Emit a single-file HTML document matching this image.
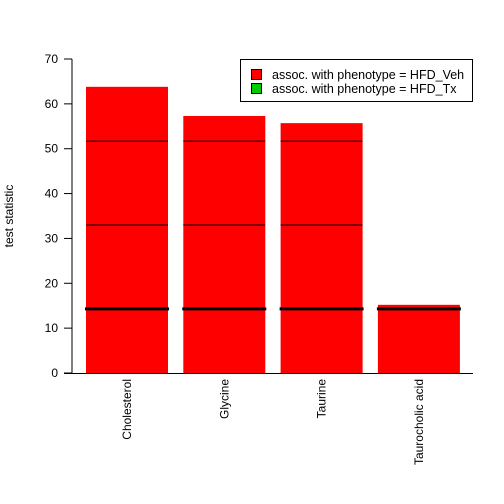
<!DOCTYPE html>
<html><head><meta charset="utf-8"><style>body{margin:0;background:#fff}svg{display:block}text{font-family:"Liberation Sans",sans-serif}</style></head>
<body>
<svg id="c" width="504" height="504"></svg>
<script>
const categories=["Cholesterol","Glycine","Taurine","Taurocholic acid"];
const values=[63.8,57.3,55.7,15.2];
const thinLines=[[51.7,33.0],[51.7,33.0],[51.7,33.0],[]];
const thresholds=[14.3,14.3,14.3,14.3];
const yTicks=[0,10,20,30,40,50,60,70];
const NS="http://www.w3.org/2000/svg";
const svg=document.getElementById('c');
function y(v){return 373-v*(314/70);}
function bx(i){return 86+i*97.3;}
const bw=82;
function mk(t,a,txt){const e=document.createElementNS(NS,t);for(const k in a)e.setAttribute(k,a[k]);if(txt!==undefined)e.textContent=txt;svg.appendChild(e);return e;}
values.forEach((v,i)=>{
 const r=mk('rect',{x:bx(i),y:y(v),width:bw,height:373-y(v),fill:'#ff0000'});
 
 
 thinLines[i].forEach(t=>{
  const l=mk('line',{x1:bx(i),x2:bx(i)+bw,y1:y(t),y2:y(t),stroke:'#000','stroke-width':1});
  
  
 });
 const th=mk('line',{x1:bx(i)-1,x2:bx(i)+bw+1,y1:y(thresholds[i]),y2:y(thresholds[i]),stroke:'#000','stroke-width':3});
 
 
 const lb=mk('text',{transform:`translate(${bx(i)+bw/2+4},379) rotate(-90)`,'text-anchor':'end','font-size':12},categories[i]);
 
 
});
const ya=mk('line',{x1:72,x2:72,y1:y(0),y2:y(70),stroke:'#000'});

const xa=mk('line',{x1:64,x2:473,y1:373.5,y2:373.5,stroke:'#000'});

yTicks.forEach(t=>{
 const tk=mk('line',{x1:64,x2:72,y1:y(t),y2:y(t),stroke:'#000'});
 
 const tl=mk('text',{x:58,y:y(t)+4,'text-anchor':'end','font-size':12},t);
 
});
const yt=mk('text',{transform:'translate(13,216) rotate(-90)','text-anchor':'middle','font-size':12},'test statistic');

</script>
<div style="position:absolute;left:240px;top:59px;width:231px;height:41px;border:1px solid #000;background:#fff;font-family:'Liberation Sans',sans-serif;font-size:12.5px">
 <div style="position:absolute;left:10px;top:8px;white-space:nowrap"><span style="display:inline-block;width:9px;height:9px;background:#ff0000;border:1px solid #000;vertical-align:-1px;margin-right:10px"></span>assoc. with phenotype = HFD_Veh</div>
 <div style="position:absolute;left:10px;top:22px;white-space:nowrap"><span style="display:inline-block;width:9px;height:9px;background:#00cc00;border:1px solid #000;vertical-align:-1px;margin-right:10px"></span>assoc. with phenotype = HFD_Tx</div>
</div>
</body></html>
